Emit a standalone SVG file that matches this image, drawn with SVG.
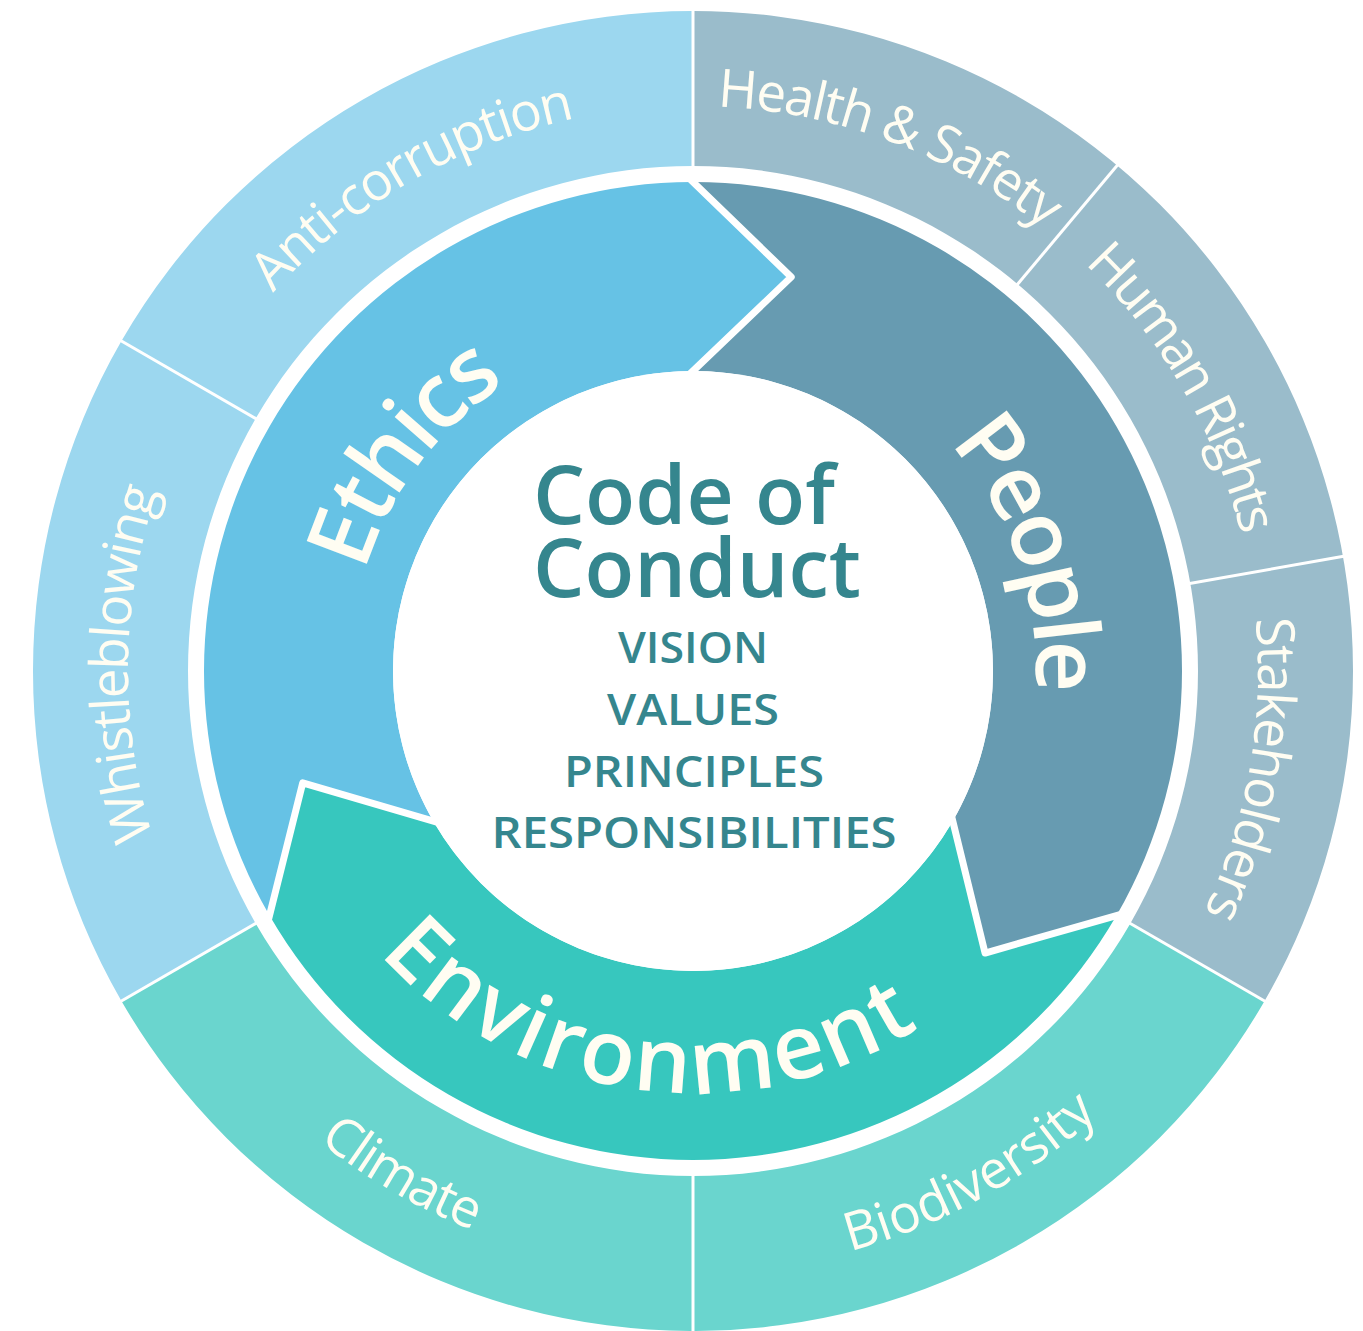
<svg xmlns="http://www.w3.org/2000/svg" width="1363" height="1331" viewBox="0 0 1363 1331">
<style>
.lbl{fill:#FFFDF2;font-family:"Open Sans","Liberation Sans",sans-serif;font-size:53px;font-weight:400}
.big{fill:#FFFDF2;font-family:"Open Sans","Liberation Sans",sans-serif;font-size:90px;font-weight:600}
.title{fill:#35868E;font-family:"Open Sans","Liberation Sans",sans-serif;font-size:82px;font-weight:600}
.sub{fill:#35868E;font-family:"Open Sans","Liberation Sans",sans-serif;font-size:43px;font-weight:600;text-anchor:middle}
.sep{stroke:#FFFFFF;stroke-width:7;fill:none;stroke-linejoin:round}
.div{stroke:#FFFFFF;stroke-width:3}
</style>
<defs>
<path id="pHS" d="M 206.18 384.24 A 565 565 0 0 1 1248.54 773.97"/>
<path id="pHR" d="M 499.76 140.07 A 565 565 0 0 1 1056.18 1103.81"/>
<path id="pSH" d="M 886.24 140.07 A 565 565 0 0 1 693 1236"/>
<path id="pWB" d="M 587.62 1226.08 A 565 565 0 0 1 602.18 113.34"/>
<path id="pAC" d="M 162.07 864.24 A 565 565 0 0 1 1125.81 307.82"/>
<path id="pBD" d="M 224.29 1047.18 A 601 601 0 0 0 1262.10 477.81"/>
<path id="pCL" d="M 128.25 465.45 A 601 601 0 0 0 1153.39 1057.32"/>
<path id="pET" d="M 442.56 905.36 A 343 343 0 0 1 848.18 365.11"/>
<path id="pPE" d="M 639.34 332.22 A 343 343 0 0 1 859.29 971.0"/>
<path id="pEN" d="M 271.31 687.20 A 422 422 0 0 0 1094.80 800.01"/>
</defs>
<rect width="1363" height="1331" fill="#FFFFFF"/>

<g id="ethics">
<path fill="#66C2E5" d="M 269.51 915.5 A 489 489 0 0 1 693 182 L 791.22 277.06 L 693 371 A 300 300 0 0 0 433.19 821 L 302.73 782.91 Z"/>
</g>
<g id="people">
<path fill="#679BB1" d="M 693 182 A 489 489 0 0 1 1116.49 915.5 L 985.05 953.03 L 952.81 821 A 300 300 0 0 0 693 371 L 791.22 277.06 Z"/>
</g>
<g id="environment">
<path fill="#37C7BE" d="M 1116.49 915.5 A 489 489 0 0 1 269.51 915.5 L 302.73 782.91 L 433.19 821 A 300 300 0 0 0 952.81 821 L 985.05 953.03 Z"/>
</g>

<g id="connectors">
<polyline class="sep" points="685.8,175 791.22,277.06 685.8,377.9"/>
<polyline class="sep" points="1126.1,912.8 985.05,953.03 950.4,811.3"/>
<polyline class="sep" points="267.1,925.2 302.73,782.91 442.8,823.8"/>
</g>

<g id="center">
<circle cx="693" cy="671" r="300" fill="#FFFFFF"/>
<text class="title" x="533" y="524" textLength="302" lengthAdjust="spacingAndGlyphs">Code of</text>
<text class="title" x="533" y="597" textLength="328" lengthAdjust="spacingAndGlyphs">Conduct</text>
<text class="sub" x="693" y="663" textLength="150" lengthAdjust="spacingAndGlyphs">VISION</text>
<text class="sub" x="693" y="725" textLength="172" lengthAdjust="spacingAndGlyphs">VALUES</text>
<text class="sub" x="694" y="787" textLength="260" lengthAdjust="spacingAndGlyphs">PRINCIPLES</text>
<text class="sub" x="694" y="848" textLength="405" lengthAdjust="spacingAndGlyphs">RESPONSIBILITIES</text>
</g>

<g id="outer-ethics">
<path fill="#9CD7EF" d="M 121.42 1001 A 660 660 0 0 1 693 11 L 693 166 A 505 505 0 0 0 255.66 923.5 Z"/>
</g>
<g id="outer-people">
<path fill="#9ABCCB" d="M 693 11 A 660 660 0 0 1 1264.58 1001 L 1130.34 923.5 A 505 505 0 0 0 693 166 Z"/>
</g>
<g id="outer-environment">
<path fill="#6AD5CE" d="M 1264.58 1001 A 660 660 0 0 1 121.42 1001 L 255.66 923.5 A 505 505 0 0 0 1130.34 923.5 Z"/>
</g>

<g id="dividers">
<line class="div" x1="693" y1="4" x2="693" y2="171"/>
<line class="div" x1="1120.46" y1="161.58" x2="1014.4" y2="287.98"/>
<line class="div" x1="1347.9" y1="555.52" x2="1185.4" y2="584.17"/>
<line class="div" x1="1268.91" y1="1003.5" x2="1126.01" y2="921"/>
<line class="div" x1="693" y1="1340" x2="693" y2="1171"/>
<line class="div" x1="117.09" y1="1003.5" x2="259.99" y2="921"/>
<line class="div" x1="117.09" y1="338.5" x2="259.99" y2="421"/>
</g>

<g id="label-anti-corruption"><text class="lbl"><textPath href="#pAC" startOffset="50%" text-anchor="middle" textLength="355">Anti-corruption</textPath></text></g>
<g id="label-whistleblowing"><text class="lbl"><textPath href="#pWB" startOffset="50%" text-anchor="middle" textLength="352">Whistleblowing</textPath></text></g>
<g id="label-health-safety"><text class="lbl"><textPath href="#pHS" startOffset="50%" text-anchor="middle" textLength="356">Health &amp; Safety</textPath></text></g>
<g id="label-human-rights"><text class="lbl"><textPath href="#pHR" startOffset="50%" text-anchor="middle" textLength="318">Human Rights</textPath></text></g>
<g id="label-stakeholders"><text class="lbl"><textPath href="#pSH" startOffset="50%" text-anchor="middle" textLength="302">Stakeholders</textPath></text></g>
<g id="label-biodiversity"><text class="lbl"><textPath href="#pBD" startOffset="50%" text-anchor="middle" textLength="286">Biodiversity</textPath></text></g>
<g id="label-climate"><text class="lbl"><textPath href="#pCL" startOffset="50%" text-anchor="middle" textLength="179">Climate</textPath></text></g>

<g id="label-ethics"><text class="big"><textPath href="#pET" startOffset="50%" text-anchor="middle" textLength="241">Ethics</textPath></text></g>
<g id="label-people"><text class="big"><textPath href="#pPE" startOffset="50%" text-anchor="middle" textLength="271">People</textPath></text></g>
<g id="label-environment"><text class="big"><textPath href="#pEN" startOffset="50%" text-anchor="middle" textLength="592">Environment</textPath></text></g>
</svg>
